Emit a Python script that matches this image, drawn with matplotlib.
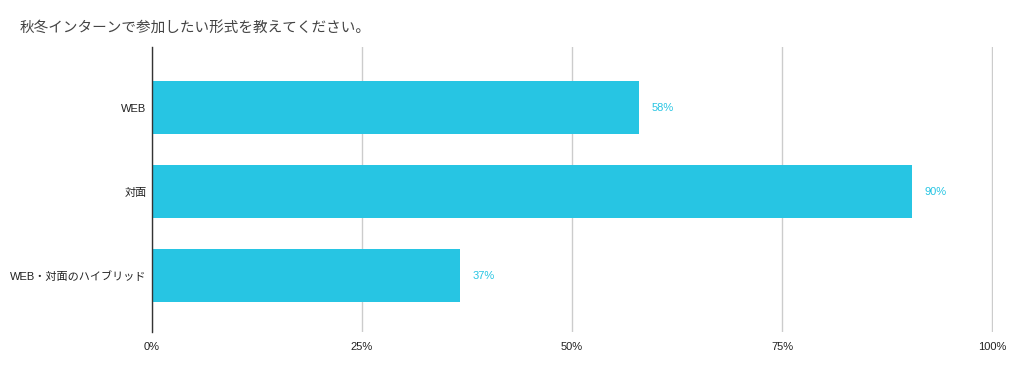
import matplotlib
matplotlib.use('Agg')
import matplotlib.pyplot as plt

plt.rcParams['font.family'] = ['Noto Sans CJK JP', 'DejaVu Sans']

# Data
categories = ['WEB', '対面', 'WEB・対面のハイブリッド']
values = [58, 90.4, 36.6]
value_labels = ['58%', '90%', '37%']
x_ticks = [0, 25, 50, 75, 100]
x_tick_labels = ['0%', '25%', '50%', '75%', '100%']

bar_color = '#27c5e3'
label_font = ['Liberation Sans', 'Noto Sans CJK JP']

fig = plt.figure(figsize=(10.13, 3.71), dpi=100)
ax = fig.add_axes([0.150, 0.105, 0.830, 0.768])

y = list(range(len(categories)))
ax.barh(y, values, height=0.63, color=bar_color, zorder=3)

for yi, v, lab in zip(y, values, value_labels):
    ax.text(v + 1.5, yi, lab, va='center', ha='left', fontsize=8,
            color=bar_color, family=label_font)

ax.set_xlim(0, 100.05)
ax.set_ylim(2.67, -0.72)
ax.set_xticks(x_ticks)
ax.set_xticklabels(x_tick_labels, fontsize=8, color='#222222', family=label_font)
ax.set_yticks(y)
ax.set_yticklabels(categories, fontsize=8, color='#222222', family=label_font)
ax.tick_params(axis='x', length=0, pad=7)
ax.tick_params(axis='y', length=0, pad=4)

ax.grid(axis='x', color='#cccccc', linewidth=1, zorder=0)
for s in ['top', 'right', 'bottom']:
    ax.spines[s].set_visible(False)
ax.spines['left'].set_color('#333333')
ax.spines['left'].set_linewidth(1)
ax.spines['left'].set_zorder(4)

fig.text(20 / 1013, 1 - 28 / 371, '秋冬インターンで参加したい形式を教えてください。',
         fontsize=10.5, color='#444444', va='center', ha='left')

fig.savefig('out.png', dpi=100)
